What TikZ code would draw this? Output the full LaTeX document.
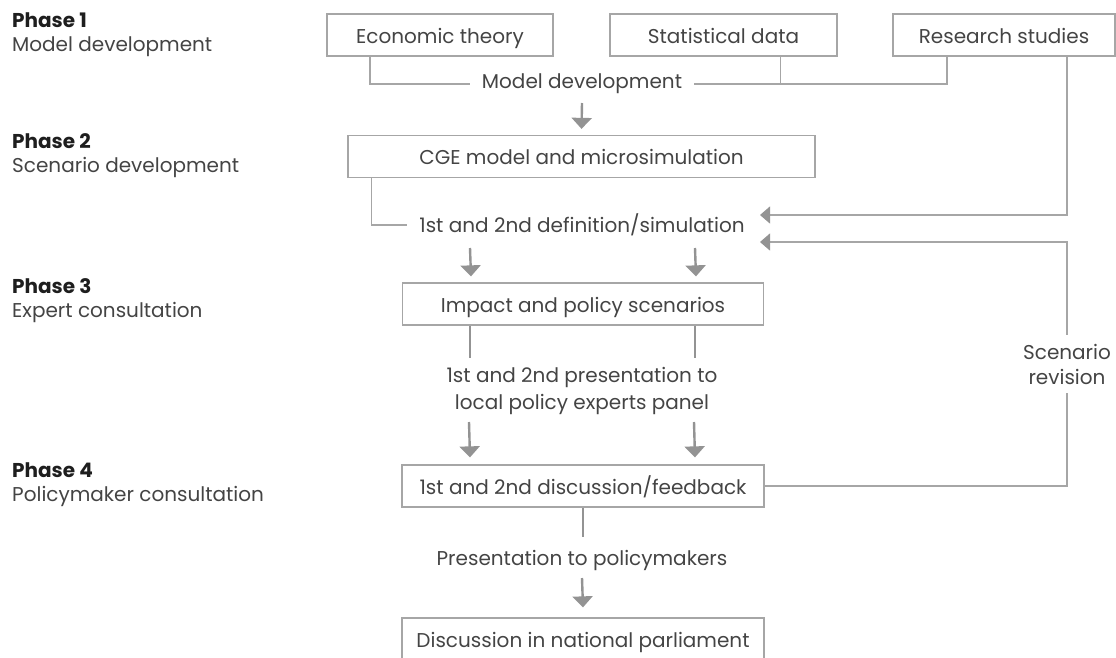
\documentclass[tikz,border=0pt]{standalone}
\usepackage{fontspec}
\setmainfont{Poppins}
\usepackage{tikz}
\usetikzlibrary{positioning,arrows.meta}

\definecolor{linegray}{HTML}{A6A6A6}
\definecolor{arrowgray}{HTML}{939393}
\definecolor{txtgray}{HTML}{444444}
\definecolor{phasecol}{HTML}{1E1E1E}

\tikzset{
  box/.style={draw=linegray, line width=1.3pt, minimum height=42pt, inner sep=0pt,
    text height=16pt, text depth=0pt, text=txtgray, font=\fontsize{20}{24}\selectfont},
  lbl/.style={text=txtgray, font=\fontsize{20}{27}\selectfont, inner xsep=12pt, inner ysep=2pt, align=center},
  phase/.style={anchor=west, align=left, inner sep=0pt, text=txtgray, font=\fontsize{20}{24}\selectfont},
  conn/.style={draw=linegray, line width=1.3pt},
  stem/.style={draw=arrowgray, line width=2.4pt},
  arr/.style={stem, -{Triangle[length=11pt,width=20pt]}},
  back/.style={conn, -{Triangle[length=10pt,width=17pt,color=arrowgray]}}
}

\begin{document}
\begin{tikzpicture}[x=1pt,y=-1pt]
  \clip (0,0) rectangle (1116,657);

  % phases
  \node[phase] (ph1) at (12,35) {\textcolor{phasecol}{\bfseries Phase 1}\\Model development};
  \node[phase] (ph2) at (12,156) {\textcolor{phasecol}{\bfseries Phase 2}\\Scenario development};
  \node[phase] (ph3) at (12,301) {\textcolor{phasecol}{\bfseries Phase 3}\\Expert consultation};
  \node[phase] (ph4) at (12,485) {\textcolor{phasecol}{\bfseries Phase 4}\\Policymaker consultation};

  % boxes
  \node[box, minimum width=226pt] (econ) at (440,35) {Economic theory};
  \node[box, minimum width=227pt] (stat) at (723.5,35) {Statistical data};
  \node[box, minimum width=222pt] (res) at (1004,35) {Research studies};
  \node[box, minimum width=467pt] (cge) at (581.5,156.5) {CGE model and microsimulation};
  \node[box, minimum width=361pt] (imp) at (583,304) {Impact and policy scenarios};
  \node[box, minimum width=362pt] (fb) at (583,486) {1st and 2nd discussion/feedback};
  \node[box, minimum width=362pt] (disc) at (583,639) {Discussion in national parliament};

  % labels between
  \node[lbl] (mdev) at (582,84) {Model development};
  \node[lbl] (defsim) at (582,225) {1st and 2nd definition/simulation};
  \node[lbl] (pres) at (582,391) {1st and 2nd presentation to\\local policy experts panel};
  \node[lbl] (pol) at (582,560) {Presentation to policymakers};
  \node[lbl, inner ysep=9pt, inner xsep=0pt, font=\fontsize{20}{25}\selectfont] (rev) at (1067,364) {Scenario\\revision};

  \coordinate (statfoot) at ([xshift=57]stat.south);
  \coordinate (resfoot) at ([xshift=-57]res.south);
  \coordinate (resside) at ([xshift=63]res.south);
  \coordinate (in1) at (760,215);
  \coordinate (in2) at (760,242);

  % phase 1
  \draw[conn] ([xshift=-70]econ.south) |- (mdev.west);
  \draw[conn] (mdev.east) -| (resfoot);
  \draw[conn] (statfoot) -- (statfoot |- mdev.east);
  \draw[arr] ([yshift=-19]mdev.center) -- ([yshift=6]cge.north);

  % phase 2
  \draw[conn] ([xshift=24]cge.south west) |- (defsim.west);
  \draw[back] (resside) |- (in1);
  \draw[back] (rev.north) |- (in2);
  \draw[conn] (fb.east) -| (rev.south);
  \draw[arr] ([xshift=-112,yshift=-23]defsim.center) -- ([xshift=-112,yshift=6]imp.north);
  \draw[arr] ([xshift=113,yshift=-23]defsim.center) -- ([xshift=113,yshift=6]imp.north);

  % phase 3
  \draw[stem] ([xshift=-113]imp.south) -- ([xshift=-113,yshift=-32]imp.south);
  \draw[stem] ([xshift=112]imp.south) -- ([xshift=112,yshift=-32]imp.south);
  \draw[arr] ([xshift=-113,yshift=-31]pres.center) -- ([xshift=-113,yshift=7]fb.north);
  \draw[arr] ([xshift=112,yshift=-31]pres.center) -- ([xshift=112,yshift=7]fb.north);

  % phase 4
  \draw[stem] (fb.south) -- ([yshift=-29]fb.south);
  \draw[arr] ([yshift=-18]pol.center) -- ([yshift=10]disc.north);
\end{tikzpicture}
\end{document}
